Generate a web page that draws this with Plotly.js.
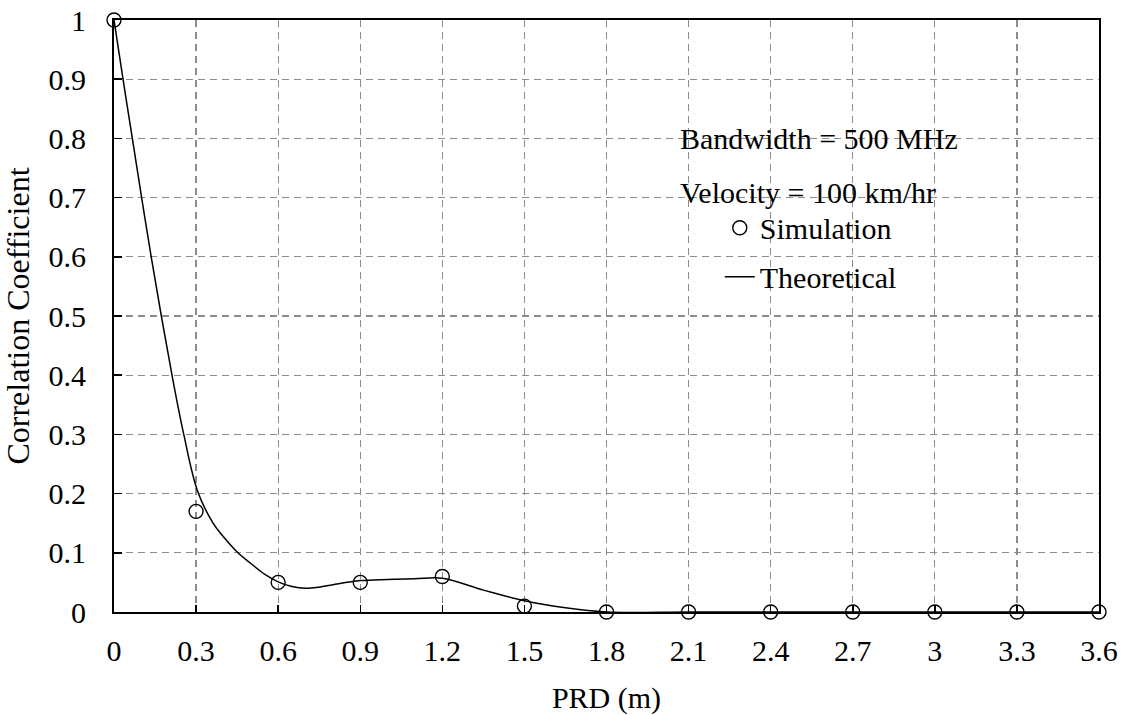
<!DOCTYPE html>
<html>
<head>
<meta charset="utf-8">
<script src="https://cdn.plot.ly/plotly-3.0.1.min.js"></script>
<style>
html,body{margin:0;padding:0;background:#fff;}
#chart{width:1124px;height:715px;}
</style>
</head>
<body>
<div id="chart"></div>
<script>
// Simulation data
var simX = [0, 0.3, 0.6, 0.9, 1.2, 1.5, 1.8, 2.1, 2.4, 2.7, 3.0, 3.3, 3.6];
var simY = [1, 0.17, 0.05, 0.05, 0.06, 0.01, 0, 0, 0, 0, 0, 0, 0];

// Theoretical curve
var theoX = [0, 0.033, 0.067, 0.101, 0.136, 0.173, 0.212, 0.255, 0.305, 0.362, 0.4, 0.453, 0.5, 0.55, 0.6, 0.65, 0.7, 0.75, 0.8, 0.9, 1.0, 1.1, 1.2, 1.35, 1.5, 1.65, 1.8, 2.1, 2.4, 2.7, 3.0, 3.3, 3.6];
var theoY = [1, 0.9, 0.8, 0.7, 0.6, 0.5, 0.4, 0.3, 0.205, 0.15, 0.127, 0.1, 0.082, 0.064, 0.051, 0.043, 0.04, 0.042, 0.046, 0.053, 0.055, 0.056, 0.057, 0.037, 0.019, 0.007, 0, 0, 0, 0, 0, 0, 0];

var xTickVals = [0, 0.3, 0.6, 0.9, 1.2, 1.5, 1.8, 2.1, 2.4, 2.7, 3.0, 3.3, 3.6];
var xTickText = ["0", "0.3", "0.6", "0.9", "1.2", "1.5", "1.8", "2.1", "2.4", "2.7", "3", "3.3", "3.6"];
var yTickVals = [0, 0.1, 0.2, 0.3, 0.4, 0.5, 0.6, 0.7, 0.8, 0.9, 1];
var yTickText = ["0", "0.1", "0.2", "0.3", "0.4", "0.5", "0.6", "0.7", "0.8", "0.9", "1"];

var seriesNames = ["Simulation", "Theoretical"];
var xTitle = "PRD (m)";
var yTitle = "Correlation Coefficient";
var noteLines = ["Bandwidth = 500 MHz", "Velocity = 100 km/hr"];

var FONT = "Liberation Serif, Times New Roman, serif";
var FS = 30;

var traces = [
  {
    x: simX, y: simY, name: seriesNames[0], type: "scatter", mode: "markers",
    legendgroup: "a", cliponaxis: false,
    marker: {symbol: "circle-open", size: 14, color: "#000", line: {width: 1.4, color: "#000"}}
  },
  {
    x: theoX, y: theoY, name: seriesNames[1], type: "scatter", mode: "lines",
    legendgroup: "b", cliponaxis: false,
    line: {color: "#000", width: 1.5, shape: "spline", smoothing: 1}
  }
];

var axisCommon = {
  showline: true, linecolor: "#000", linewidth: 2, mirror: true,
  ticks: "inside", tickcolor: "#000", tickwidth: 1.5,
  showgrid: true, gridcolor: "#8c8c8c", gridwidth: 1.3, griddash: "7px,5px",
  zeroline: false,
  tickfont: {family: FONT, size: FS, color: "#000"}
};

var layout = {
  width: 1124, height: 715,
  margin: {l: 114, r: 25, t: 20, b: 103},
  paper_bgcolor: "#fff", plot_bgcolor: "#fff",
  font: {family: FONT, size: FS, color: "#000"},
  showlegend: true,
  legend: {
    x: 0.615, y: 0.693, xanchor: "left", yanchor: "top",
    bgcolor: "rgba(0,0,0,0)", borderwidth: 0,
    font: {family: FONT, size: FS, color: "#000"},
    tracegroupgap: 7, traceorder: "grouped"
  },
  xaxis: Object.assign({}, axisCommon, {
    range: [0, 3.6], tickmode: "array", tickvals: xTickVals, ticktext: xTickText,
    ticklen: 7, ticklabelstandoff: 11,
    title: {text: xTitle, font: {family: FONT, size: FS, color: "#000"}, standoff: 26}
  }),
  yaxis: Object.assign({}, axisCommon, {
    range: [0, 1], tickmode: "array", tickvals: yTickVals, ticktext: yTickText,
    ticklen: 8, ticklabelstandoff: 20,
    title: {text: yTitle, font: {family: FONT, size: 32, color: "#000"}, standoff: 11}
  }),
  annotations: [
    {xref: "paper", yref: "paper", x: 0.573, y: 0.799, xanchor: "left", yanchor: "middle",
     text: noteLines[0], showarrow: false, font: {family: FONT, size: FS, color: "#000"}},
    {xref: "paper", yref: "paper", x: 0.573, y: 0.709, xanchor: "left", yanchor: "middle",
     text: noteLines[1], showarrow: false, font: {family: FONT, size: FS, color: "#000"}}
  ]
};

Plotly.newPlot("chart", traces, layout, {displayModeBar: false, staticPlot: true});
</script>
</body>
</html>
